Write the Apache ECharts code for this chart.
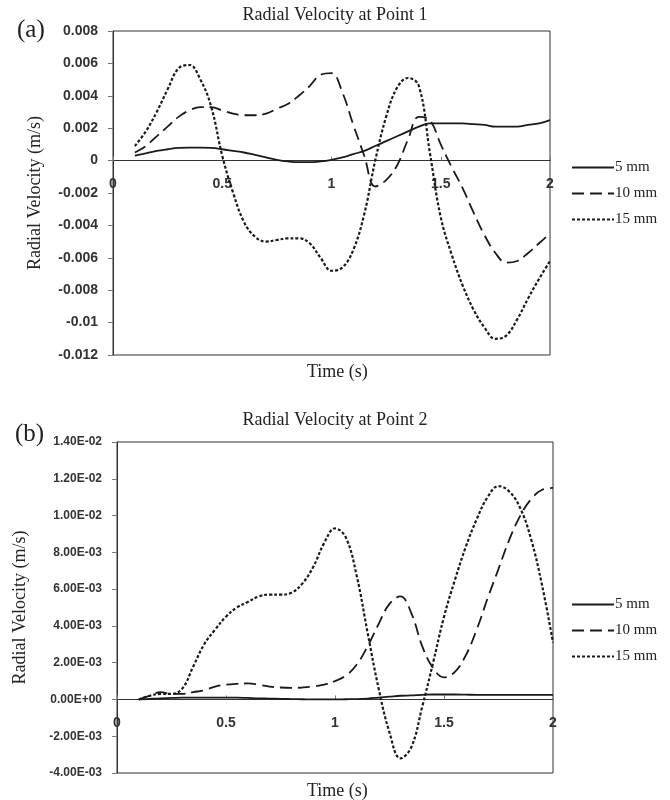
<!DOCTYPE html>
<html>
<head>
<meta charset="utf-8">
<script src="https://cdn.jsdelivr.net/npm/echarts@6/dist/echarts.min.js"></script>
<style>
  html, body { margin: 0; padding: 0; background: #fff; }
  #chart { width: 670px; height: 800px; }
</style>
</head>
<body>
<div id="chart"></div>
<script>
// time samples (s)
const times = [0.1, 0.15, 0.2, 0.25, 0.3, 0.35, 0.4, 0.45, 0.5, 0.55, 0.6, 0.65, 0.7, 0.75, 0.8, 0.85, 0.9, 0.95, 1.0,
  1.05, 1.1, 1.15, 1.2, 1.25, 1.3, 1.35, 1.4, 1.45, 1.5, 1.55, 1.6, 1.65, 1.7, 1.75, 1.8, 1.85, 1.9, 1.95, 2.0]

const seriesNames = ['5 mm', '10 mm', '15 mm']

// (a) point 1
const p1_5mm = [0.0003, 0.00045, 0.0006, 0.0007, 0.00078, 0.0008, 0.0008, 0.00078, 0.0007, 0.0006, 0.0005, 0.00035, 0.0002,
  0.00005, -0.00005, -0.0001, -0.0001, -0.00005, 0.00005, 0.0002, 0.0004, 0.0006, 0.0009, 0.0012, 0.0015, 0.0018, 0.0021,
  0.0023, 0.0023, 0.0023, 0.0023, 0.00225, 0.0022, 0.0021, 0.0021, 0.0021, 0.0022, 0.0023, 0.0025]
const p1_10mm = [0.0005, 0.0009, 0.0015, 0.0021, 0.0027, 0.0031, 0.0033, 0.0033, 0.0031, 0.0029, 0.0028, 0.0028, 0.0029,
  0.0032, 0.0035, 0.0040, 0.0046, 0.0053, 0.0054, 0.0042, 0.0022, 0.0003, -0.0016, -0.0012, -0.0003, 0.0013, 0.0027,
  0.0025, 0.0010, -0.0004, -0.0017, -0.0032, -0.0046, -0.0057, -0.0063, -0.0062, -0.0057, -0.0051, -0.0045]
const p1_15mm = [0.0009, 0.0018, 0.0030, 0.0044, 0.0057, 0.0059, 0.0050, 0.0033, 0.0003, -0.0020, -0.0038, -0.0047, -0.0050,
  -0.0049, -0.0048, -0.0048, -0.0051, -0.0060, -0.0068, -0.0066, -0.0055, -0.0033, 0.0000, 0.0027, 0.0045, 0.0051, 0.0046,
  0.0005, -0.0035, -0.0058, -0.0077, -0.0092, -0.0103, -0.0110, -0.0108, -0.0098, -0.0085, -0.0073, -0.0062]

// (b) point 2
const p2_5mm = [0.0, 0.00003, 0.00006, 0.00008, 0.0001, 0.0001, 0.0001, 0.0001, 0.0001, 0.0001, 0.00008, 0.00006, 0.00005,
  0.00003, 0.00002, 0.00001, 0.0, 0.0, 0.0, 0.00001, 0.00002, 0.00005, 0.0001, 0.00015, 0.0002, 0.00022, 0.00025,
  0.00027, 0.00027, 0.00027, 0.00026, 0.00025, 0.00025, 0.00025, 0.00025, 0.00025, 0.00025, 0.00025, 0.00025]
const p2_10mm = [0.0, 0.0002, 0.0004, 0.0003, 0.0003, 0.0004, 0.0005, 0.0007, 0.0008, 0.00085, 0.00087, 0.0008, 0.0007,
  0.00065, 0.00063, 0.00065, 0.0007, 0.0008, 0.001, 0.0013, 0.0019, 0.0029, 0.0041, 0.0052, 0.0056, 0.0047, 0.0029,
  0.0017, 0.0012, 0.0015, 0.0024, 0.0038, 0.0055, 0.0071, 0.0087, 0.0100, 0.0109, 0.0114, 0.0115]
const p2_15mm = [0.0, 0.0002, 0.0003, 0.0003, 0.0006, 0.0018, 0.0030, 0.0038, 0.0045, 0.0050, 0.0053, 0.0056, 0.0057,
  0.0057, 0.0058, 0.0063, 0.0072, 0.0085, 0.0093, 0.0088, 0.0067, 0.0036, 0.0006, -0.0018, -0.0032, -0.0026, -0.0004,
  0.0020, 0.0045, 0.0065, 0.0083, 0.0098, 0.0110, 0.0116, 0.0113, 0.0104, 0.0087, 0.0062, 0.0031]

const chart = echarts.init(document.getElementById('chart'))

const serif = "'Liberation Serif', 'DejaVu Serif', serif"
const sans = "'Liberation Sans', Arial, sans-serif"
const ink = '#1a1a1a'

const styles = [
  { type: 'solid', width: 1.8 },
  { type: [12, 6], width: 1.8 },
  { type: [3, 2], width: 2.2 }
]

// plot boxes, in px
const box1 = { left: 113, top: 31, width: 437, height: 324 }
const box2 = { left: 117, top: 442, width: 436, height: 331 }
const yRange1 = [-0.012, 0.008]
const yRange2 = [-0.004, 0.014]

function pairs(vals) {
  return times.map((t, i) => [t, vals[i]])
}

function sciLabel(v) {
  if (Math.abs(v) < 1e-12) return '0.00E+00'
  const s = v.toExponential(2).toUpperCase()
  const parts = s.split('E')
  const exp = parseInt(parts[1], 10)
  const sign = exp < 0 ? '-' : '+'
  const digits = String(Math.abs(exp)).padStart(2, '0')
  return parts[0] + 'E' + sign + digits
}

// x axis drawn through y = 0 (shift it up from the bottom of the box)
function makeX(gridIndex, box, range) {
  const zeroOffset = box.height * (0 - range[0]) / (range[1] - range[0])
  return {
    type: 'value',
    gridIndex: gridIndex,
    min: 0,
    max: 2,
    interval: 0.5,
    position: 'bottom',
    offset: -zeroOffset,
    axisLine: { onZero: false, lineStyle: { color: '#333', width: 1 } },
    axisTick: { show: true, inside: true, length: 4, lineStyle: { color: '#777' } },
    axisLabel: { color: '#333', fontFamily: sans, fontSize: 14, fontWeight: 'bold', margin: 17 },
    splitLine: { show: false }
  }
}

function makeLine(name, vals, idx, gridIndex) {
  return {
    name: name,
    type: 'line',
    xAxisIndex: gridIndex,
    yAxisIndex: gridIndex,
    data: pairs(vals),
    smooth: 0.4,
    symbol: 'none',
    color: ink,
    lineStyle: Object.assign({ color: ink }, styles[idx]),
    animation: false
  }
}

function makeLegend(top) {
  return {
    data: seriesNames,
    orient: 'vertical',
    left: 566,
    top: top,
    itemWidth: 42,
    itemHeight: 14,
    itemGap: 11,
    itemStyle: { opacity: 0 },
    textStyle: { fontFamily: serif, fontSize: 15, color: '#222', padding: [0, 0, 0, -4] }
  }
}

const titleStyle = { fontFamily: serif, fontSize: 18, fontWeight: 'normal', color: '#222' }
const tagStyle = { fontFamily: serif, fontSize: 25, fontWeight: 'normal', color: '#222' }

chart.setOption({
  backgroundColor: '#fff',
  title: [
    { text: 'Radial Velocity at Point 1', left: 'center', top: 1, textStyle: titleStyle },
    { text: '(a)', left: 12, top: 13, textStyle: tagStyle },
    { text: 'Time (s)', left: 302, top: 358, textStyle: titleStyle },
    { text: 'Radial Velocity at Point 2', left: 'center', top: 406, textStyle: titleStyle },
    { text: '(b)', left: 10, top: 417, textStyle: tagStyle },
    { text: 'Time (s)', left: 302, top: 777, textStyle: titleStyle }
  ],
  legend: [makeLegend(155), makeLegend(592)],
  grid: [
    Object.assign({ show: true, borderColor: '#333', borderWidth: 1 }, box1),
    Object.assign({ show: true, borderColor: '#333', borderWidth: 1 }, box2)
  ],
  xAxis: [makeX(0, box1, yRange1), makeX(1, box2, yRange2)],
  yAxis: [
    {
      type: 'value',
      gridIndex: 0,
      min: yRange1[0],
      max: yRange1[1],
      interval: 0.002,
      name: 'Radial Velocity (m/s)',
      nameLocation: 'middle',
      nameGap: 69,
      nameTextStyle: { fontFamily: serif, fontSize: 18, color: '#222' },
      axisLine: { show: true, onZero: false, lineStyle: { color: '#333' } },
      axisTick: { show: true, length: 5, lineStyle: { color: '#777' } },
      axisLabel: { color: '#333', fontFamily: sans, fontSize: 14, fontWeight: 'bold', margin: 15 },
      splitLine: { show: false }
    },
    {
      type: 'value',
      gridIndex: 1,
      min: yRange2[0],
      max: yRange2[1],
      interval: 0.002,
      name: 'Radial Velocity (m/s)',
      nameLocation: 'middle',
      nameGap: 88,
      nameTextStyle: { fontFamily: serif, fontSize: 18, color: '#222' },
      axisLine: { show: true, onZero: false, lineStyle: { color: '#333' } },
      axisTick: { show: true, length: 5, lineStyle: { color: '#777' } },
      axisLabel: { color: '#333', fontFamily: sans, fontSize: 12, fontWeight: 'bold', margin: 15, formatter: sciLabel },
      splitLine: { show: false }
    }
  ],
  series: [
    makeLine(seriesNames[0], p1_5mm, 0, 0),
    makeLine(seriesNames[1], p1_10mm, 1, 0),
    makeLine(seriesNames[2], p1_15mm, 2, 0),
    makeLine(seriesNames[0], p2_5mm, 0, 1),
    makeLine(seriesNames[1], p2_10mm, 1, 1),
    makeLine(seriesNames[2], p2_15mm, 2, 1)
  ]
})
</script>
</body>
</html>
